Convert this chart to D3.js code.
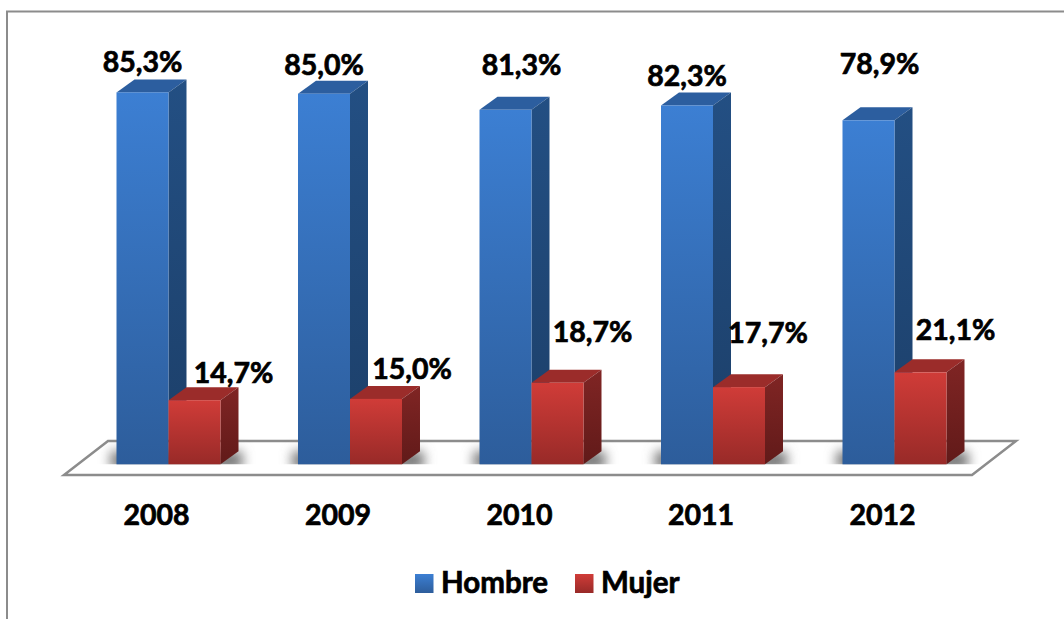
<!DOCTYPE html>
<html>
<head>
<meta charset="utf-8">
<style>
  html, body { margin: 0; padding: 0; background: #fff; overflow: hidden; }
  text { font-family: Lato, "Open Sans", sans-serif; font-weight: 700; fill: #000; stroke: #000; stroke-width: 0.7px; }
</style>
<script src="https://cdnjs.cloudflare.com/ajax/libs/d3/7.8.5/d3.min.js"></script>
</head>
<body>
<svg></svg>
<script>
const size = {w: 1064, h: 619};
const svg = d3.select('svg').attr('width', size.w).attr('height', size.h).style('display', 'block');

// data
const years = ['2008', '2009', '2010', '2011', '2012'];
const seriesNames = ['Hombre', 'Mujer'];
const hombre = [85.3, 85.0, 81.3, 82.3, 78.9];
const mujer = [14.7, 15.0, 18.7, 17.7, 21.1];

// labels were dragged by hand in the original, so they need their own nudges
const hombreNudge = [[0, -7], [0, -6], [16, -22], [0, -6], [11, -33]];
const mujerNudge = [[39, -4], [36, -7], [35, -28], [29, -31], [35, -19]];

const depth = {x: 18, y: -13};
const baseY = 464.3;
const yScale = d3.scaleLinear().domain([0, 100]).range([baseY, baseY - 436]);
const xScale = d3.scaleBand().domain(years).range([116.5, 946.5]).paddingInner(0.427);
const sub = d3.scaleBand().domain(seriesNames).range([0, xScale.bandwidth()]);

const numFmt = v => v.toFixed(1).replace('.', ',') + '%';

// gradients
const defs = svg.append('defs');
function addGradient(id, top, bottom) {
    const g = defs.append('linearGradient').attr('id', id).attr('x1', 0).attr('y1', 0).attr('x2', 0).attr('y2', 1);
    g.append('stop').attr('offset', '0%').attr('stop-color', top);
    g.append('stop').attr('offset', '100%').attr('stop-color', bottom);
}
addGradient('blueFront', '#3c7fd3', '#2d5d9b');
addGradient('blueSide', '#234f83', '#1c3f69');
addGradient('redFront', '#d03c38', '#982a28');
addGradient('redSide', '#802524', '#611a19');
defs.append('filter').attr('id', 'blur').attr('x', '-20%').attr('y', '-100%').attr('width', '140%').attr('height', '300%')
    .append('feGaussianBlur').attr('stdDeviation', 6);

// chart border, only top and left show
svg.append('path').attr('d', 'M7,619V11.5H1064').attr('fill', 'none').attr('stroke', '#8c8c8c').attr('stroke-width', 2);

// floor
const floorX = 64, floorW = 908, floorY = 475;
const floor = [[floorX, floorY], [floorX + floorW, floorY], [1016, 441], [108, 441]];
svg.append('path')
    .attr('d', d3.line()(floor) + 'Z')
    .attr('fill', '#fff')
    .attr('stroke', '#8c8c8c')
    .attr('stroke-width', 2.5);

const chartG = svg.append('g').classed('bars', true);

// keep the shadow from spilling below the front edge
svg.append('clipPath').attr('id', 'floorClip').append('rect').attr('x', 0).attr('y', 430).attr('width', size.w).attr('height', baseY - 430);

// shadows go under every bar
chartG.append('g').attr('clip-path', 'url(#floorClip)')
    .selectAll('rect')
    .data(years)
    .join('rect')
    .attr('x', d => xScale(d) - 6)
    .attr('y', baseY - 13)
    .attr('width', xScale.bandwidth() + 28)
    .attr('height', 18)
    .attr('fill', '#777')
    .attr('filter', 'url(#blur)');

function drawBar(g, x, w, v, front, side, topColor) {
    const y = yScale(v);
    g.append('polygon')
        .attr('points', [[x, y], [x + w, y], [x + w + depth.x, y + depth.y], [x + depth.x, y + depth.y]].join(' '))
        .attr('fill', topColor);
    g.append('polygon')
        .attr('points', [[x + w, y], [x + w + depth.x, y + depth.y], [x + w + depth.x, baseY + depth.y], [x + w, baseY]].join(' '))
        .attr('fill', `url(#${side})`);
    g.append('rect')
        .attr('x', x).attr('y', y)
        .attr('width', w).attr('height', baseY - y)
        .attr('fill', `url(#${front})`);
}

years.forEach((year, i) => {
    const g = chartG.append('g').classed('year', true);
    drawBar(g, xScale(year) + sub('Hombre'), sub.bandwidth(), hombre[i], 'blueFront', 'blueSide', '#2c5e9f');
    drawBar(g, xScale(year) + sub('Mujer'), sub.bandwidth(), mujer[i], 'redFront', 'redSide', '#9b2c2a');
});

// value labels
const labelG = svg.append('g').classed('labels', true).attr('font-size', 28.5).attr('text-anchor', 'middle');
years.forEach((year, i) => {
    const barW = sub.bandwidth();
    labelG.append('text')
        .attr('x', xScale(year) + sub('Hombre') + barW / 2 + hombreNudge[i][0])
        .attr('y', yScale(hombre[i]) + hombreNudge[i][1] + depth.y)
        .text(numFmt(hombre[i]));
    labelG.append('text')
        .attr('x', xScale(year) + sub('Mujer') + barW / 2 + mujerNudge[i][0])
        .attr('y', yScale(mujer[i]) + mujerNudge[i][1] + depth.y)
        .text(numFmt(mujer[i]));
});

// x axis, the year labels sit a bit left of the band centre in the original
const xAxis = d3.axisBottom(xScale).tickSize(0).tickPadding(0);
const axisG = svg.append('g').attr('transform', 'translate(-12,505)').call(xAxis);
axisG.select('.domain').remove();
axisG.selectAll('text')
    .attr('font-size', 28.5)
    .attr('dy', '0.71em')
    .style('font-family', 'Lato')
    .style('font-weight', 700);

// legend
const legendX = d3.scaleOrdinal().domain(seriesNames).range([415, 575]);
const legendG = svg.append('g').classed('legend', true);
const legendItems = legendG.selectAll('g')
    .data(seriesNames)
    .join('g')
    .attr('transform', d => `translate(${legendX(d)},574)`);
legendItems.append('rect')
    .attr('width', 18.5).attr('height', 19)
    .attr('fill', d => d === 'Hombre' ? 'url(#blueFront)' : 'url(#redFront)');
legendItems.append('text')
    .attr('x', 26)
    .attr('y', 19)
    .attr('font-size', 29.5)
    .text(d => d);
</script>
</body>
</html>
